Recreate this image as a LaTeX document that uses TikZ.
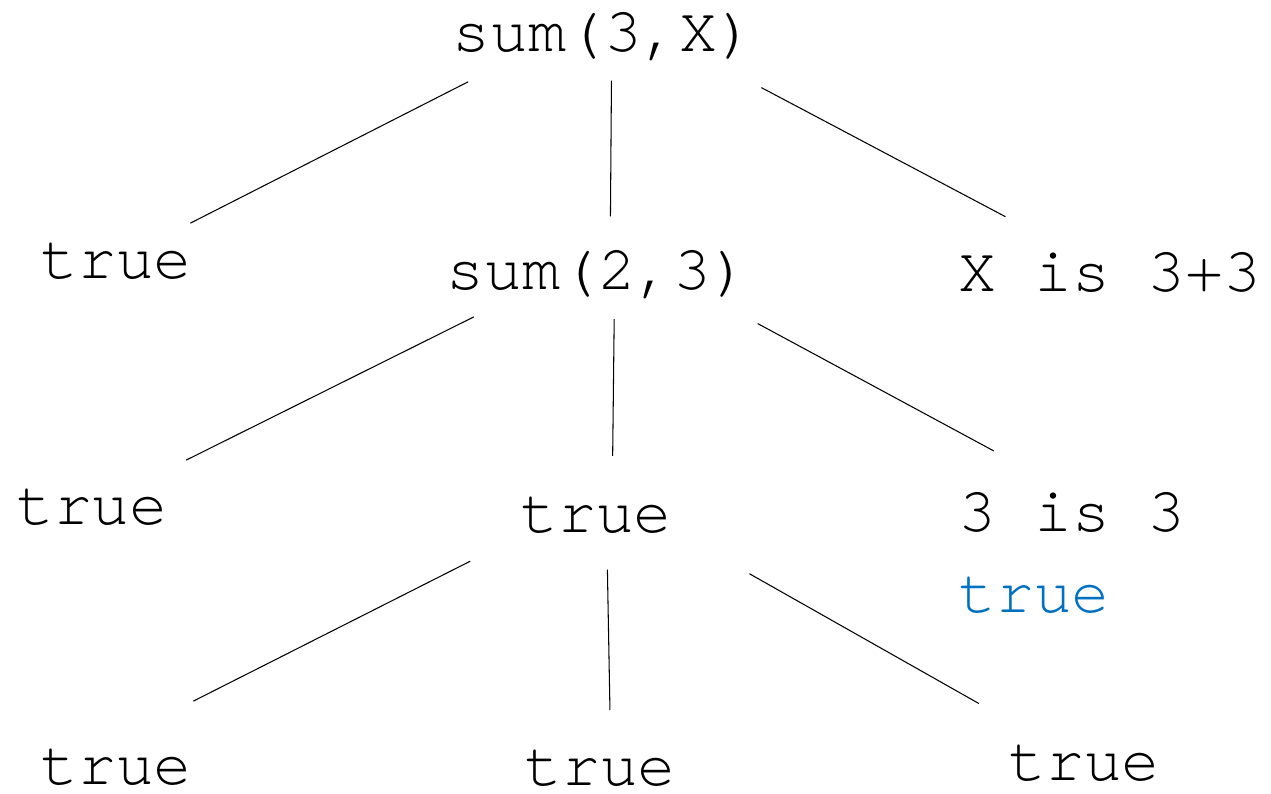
\documentclass[tikz,border=0pt]{standalone}
\usepackage{fontspec}
\setmonofont{TeX Gyre Cursor}
\usetikzlibrary{calc}
\definecolor{resblue}{RGB}{0,112,192}
\begin{document}
\begin{tikzpicture}
[x=0.02cm,y=-0.02cm,
goal/.style={font=\ttfamily\fontsize{36}{42}\selectfont,inner xsep=0pt,inner ysep=1pt},
edge/.style={line width=0.6pt}]
\useasboundingbox (0,0) rectangle (1271,794);
\node[goal] at (604,37) (n1) {sum(3,X)};
\node[goal] at (116,261) (n2) {true};
\node[goal] at (598,275) (n3) {sum(2,3)};
\node[goal] at (1110,272) (n4) {X is 3+3};
\node[goal] at (92,507) (n5) {true};
\node[goal] at (596,515) (n6) {true};
\node[goal] at (1072,512) (n7) {3 is 3};
\node[goal,text=resblue] at (1034,595) (n8) {true};
\node[goal] at (116,767) (n9) {true};
\node[goal] at (600,768) (n10) {true};
\node[goal] at (1084,763) (n11) {true};
% branch points above the goals
\coordinate (a1) at ($(n1.north)+(8,-2)$);
\coordinate (a3) at ($(n3.north)+(17,-2)$);
\coordinate (a6) at ($(n6.north)+(10,-2)$);
\draw[edge] ($(a1)!0.29!(n2)$) -- ($(a1)!0.85!(n2)$);
\draw[edge] ($(a1)!0.27!($(n3)+(12,0)$)$) -- ($(a1)!0.78!($(n3)+(12,0)$)$);
\draw[edge] ($(a1)!0.30!(n4)$) -- ($(a1)!0.79!(n4)$);
\draw[edge] ($(a3)!0.27!(n5)$) -- ($(a3)!0.82!(n5)$);
\draw[edge] ($(a3)!0.27!($(n6)+(16,0)$)$) -- ($(a3)!0.78!($(n6)+(16,0)$)$);
\draw[edge] ($(a3)!0.29!($(n7)+(35,0)$)$) -- ($(a3)!0.77!($(n7)+(35,0)$)$);
\draw[edge] ($(a6)!0.25!($(n9)+(-53,0)$)$) -- ($(a6)!0.76!($(n9)+(-53,0)$)$);
\draw[edge] ($(a6)!0.28!($(n10)+(11,0)$)$) -- ($(a6)!0.79!($(n10)+(11,0)$)$);
\draw[edge] ($(a6)!0.30!(n11)$) -- ($(a6)!0.78!(n11)$);
\end{tikzpicture}
\end{document}
